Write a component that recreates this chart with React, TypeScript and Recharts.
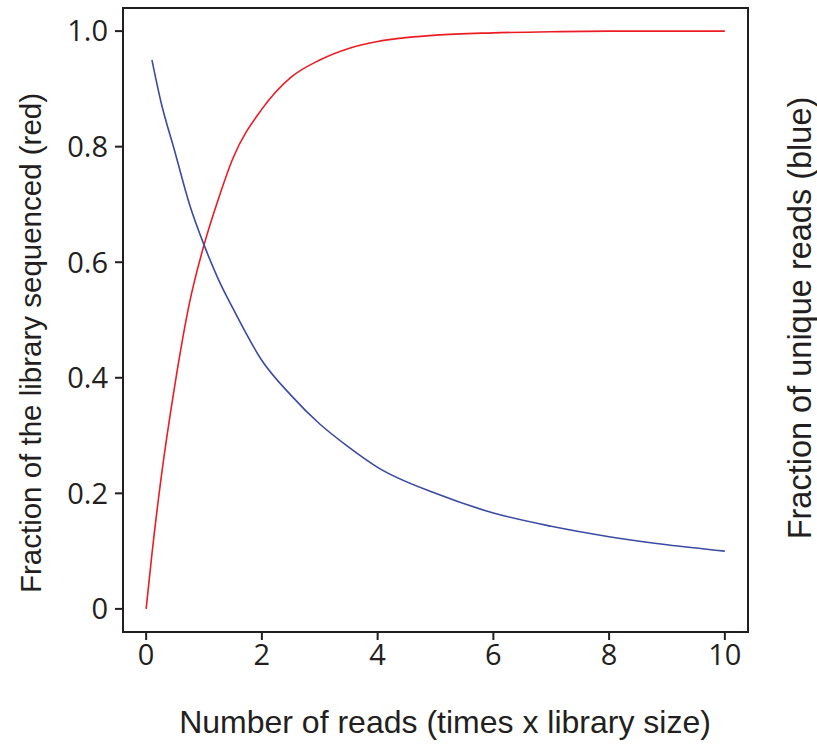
import { Label, Line, LineChart, ReferenceArea, XAxis, YAxis } from "recharts";

// values
const readsX = [0, 0.1, 0.25, 0.5, 0.75, 1, 1.25, 1.5, 2, 2.5, 3, 3.5, 4, 5, 6, 7, 8, 9, 10];
const fractionSequenced = [0, 0.095, 0.22, 0.39, 0.53, 0.63, 0.71, 0.78, 0.865, 0.92, 0.95, 0.97, 0.982, 0.993, 0.997, 0.999, 1.0, 1.0, 1.0];
const fractionUnique = [null, 0.95, 0.88, 0.79, 0.7, 0.63, 0.57, 0.52, 0.43, 0.37, 0.32, 0.28, 0.245, 0.2, 0.166, 0.143, 0.125, 0.111, 0.1];

const xTicks = [0, 2, 4, 6, 8, 10];
const yTicks = [0, 0.2, 0.4, 0.6, 0.8, 1.0];

const rows = readsX.map((x, i) => ({
  x,
  red: fractionSequenced[i],
  blue: fractionUnique[i],
}));

const TICK_FONT = "'Open Sans', 'Liberation Sans', sans-serif";
const TITLE_FONT = "'Liberation Sans', Arial, sans-serif";
const INK = "#231f20";
const tickStyle = { fill: INK, fontSize: 29, fontFamily: TICK_FONT };

type TitleProps = { text: string; cx: number; cy: number; size: number; vertical?: boolean };

function AxisTitle({ text, cx, cy, size, vertical }: TitleProps) {
  return (
    <text
      x={cx}
      y={cy}
      transform={vertical ? `rotate(-90 ${cx} ${cy})` : undefined}
      textAnchor="middle"
      dominantBaseline="central"
      fill={INK}
      fontSize={size}
      fontFamily={TITLE_FONT}
    >
      {text}
    </text>
  );
}

export default function App() {
  return (
    <div style={{ position: "fixed", left: 0, top: 0, background: "#fff" }}>
      <LineChart
        width={817}
        height={744}
        data={rows}
        margin={{ top: 8, right: 0, left: 0, bottom: 0 }}
      >
        <XAxis
          dataKey="x"
          type="number"
          domain={[-0.4, 10.4]}
          ticks={xTicks}
          axisLine={false}
          tickSize={8}
          tickMargin={4}
          tickLine={{ stroke: INK, strokeWidth: 2 }}
          tick={tickStyle}
          height={112}
        >
          <Label
            content={() => <AxisTitle text="Number of reads (times x library size)" cx={445} cy={722} size={32} />}
          />
        </XAxis>
        <YAxis
          type="number"
          domain={[-0.04, 1.04]}
          ticks={yTicks}
          axisLine={false}
          tickSize={8}
          tickMargin={7}
          tickLine={{ stroke: INK, strokeWidth: 2 }}
          tick={tickStyle}
          tickFormatter={(v: number) => (v === 0 ? "0" : v.toFixed(1))}
          width={123}
        >
          <Label
            content={() => (
              <AxisTitle text="Fraction of the library sequenced (red)" cx={30} cy={343} size={29.5} vertical />
            )}
          />
        </YAxis>
        <YAxis
          yAxisId="right"
          orientation="right"
          type="number"
          domain={[-0.04, 1.04]}
          ticks={[]}
          axisLine={false}
          tickLine={false}
          width={69}
        >
          <Label
            content={() => <AxisTitle text="Fraction of unique reads (blue)" cx={800} cy={318} size={32.5} vertical />}
          />
        </YAxis>
        <ReferenceArea
          x1={-0.4}
          x2={10.4}
          y1={-0.04}
          y2={1.04}
          fill="none"
          stroke={INK}
          strokeWidth={2}
          ifOverflow="visible"
        />
        <Line type="monotone" dataKey="red" stroke="#ec1c24" strokeWidth={1.6} dot={false} isAnimationActive={false} />
        <Line type="monotone" dataKey="blue" stroke="#3b4ba3" strokeWidth={1.6} dot={false} isAnimationActive={false} />
      </LineChart>
    </div>
  );
}
